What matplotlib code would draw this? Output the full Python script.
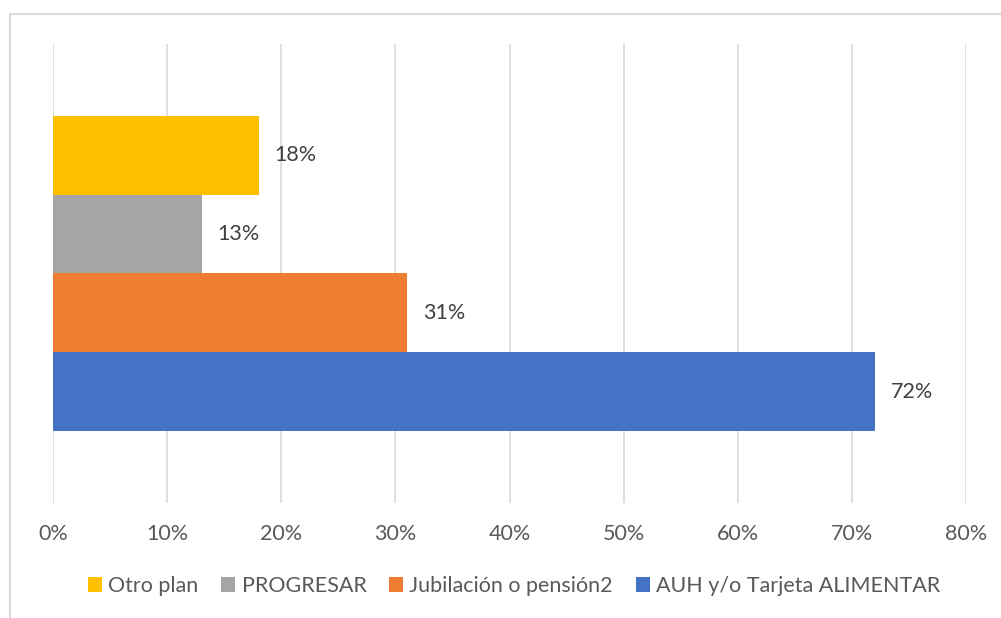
import matplotlib
matplotlib.use("Agg")
import matplotlib.pyplot as plt
from matplotlib.patches import Rectangle
from matplotlib.ticker import FuncFormatter

# Data (bottom to top in the chart)
series = ["AUH y/o Tarjeta ALIMENTAR", "Jubilación o pensión2", "PROGRESAR", "Otro plan"]
values = [72, 31, 13, 18]
colors = ["#4472C4", "#ED7D31", "#A5A5A5", "#FFC000"]
ticks = [0, 10, 20, 30, 40, 50, 60, 70, 80]

plt.rcParams["font.family"] = ["Lato", "DejaVu Sans"]

fig = plt.figure(figsize=(10.01, 6.18), dpi=100)
ax = fig.add_axes([0.0532, 0.1861, 0.9116, 0.7427])

h = 0.172
offsets = [-1.5 * h, -0.5 * h, 0.5 * h, 1.5 * h]
bars = []
for name, v, c, o in zip(series, values, colors, offsets):
    b = ax.barh(o, v, height=h, color=c, label=name, zorder=3)
    bars.append(b)
    ax.annotate(f"{v}%", xy=(v, o), xytext=(11.5, 0), textcoords="offset points",
                va="center", ha="left", fontsize=15.5, color="#404040")

ax.set_xlim(0, 80)
ax.set_ylim(-0.5, 0.5)
ax.set_xticks(ticks)
ax.xaxis.set_major_formatter(FuncFormatter(lambda x, p: f"{x:.0f}%"))
ax.set_yticks([])
ax.grid(axis="x", color="#D9D9D9", linewidth=1.2, zorder=0)
for s in ax.spines.values():
    s.set_visible(False)
ax.tick_params(axis="x", length=0, pad=15, labelsize=15.5, labelcolor="#595959")

# legend in Excel order
handles = [bars[3], bars[2], bars[1], bars[0]]
labels = [series[3], series[2], series[1], series[0]]
fig.legend(handles, labels, loc="center", bbox_to_anchor=(514 / 1001, 1 - 586 / 618),
           ncol=4, frameon=False, fontsize=15.5, labelcolor="#595959",
           handlelength=0.65, handleheight=0.65, handletextpad=0.3, columnspacing=1.05)

# chart border
fig.patches.append(Rectangle((9.5 / 1001, -0.1), 1.2, 1.1 - 14.5 / 618,
                             transform=fig.transFigure, fill=False,
                             edgecolor="#D9D9D9", linewidth=1.5))

fig.savefig("out.png", dpi=100)
